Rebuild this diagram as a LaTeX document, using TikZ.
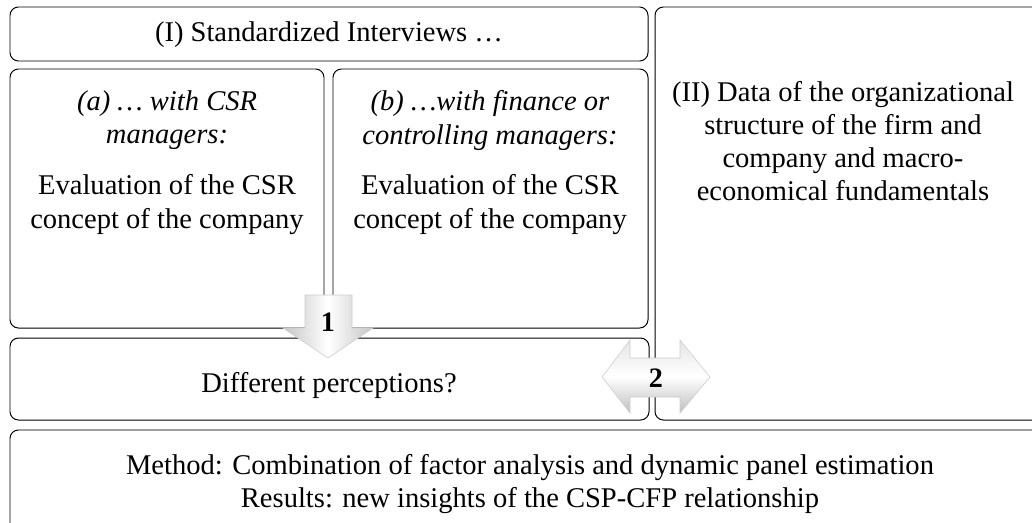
\documentclass[tikz,border=0pt]{standalone}
\usepackage{fontspec}
\setmainfont{Liberation Serif}
\usetikzlibrary{positioning}
\begin{document}
\begin{tikzpicture}[x=0.025cm,y=-0.025cm,
  box/.style={draw,rounded corners=6pt,line width=0.7pt},
  txt/.style={align=center,inner sep=0pt,font=\fontsize{20.3}{23.6}\selectfont},
  num/.style={inner sep=0pt,font=\fontsize{20}{24}\selectfont\bfseries}]
\useasboundingbox (0,0) rectangle (1032,522);
\clip (0,0) rectangle (1032,522);
% boxes
\draw[box] (10,7) rectangle (648,61);
\draw[box] (10,69) rectangle (324,328);
\draw[box] (333,69) rectangle (648,328);
\draw[box] (655,7) rectangle (1060,420);
\draw[box] (10,338) rectangle (649,420);
\draw[box] (10,430) rectangle (1060,560);
\draw[color=gray!75,line width=1.4pt] (18,430)--(1032,430);
% texts
\node[txt] (intv) at (329,35) {(I) Standardized Interviews …};
\node[txt] (csrA) at (167,120.5) {\itshape (a) … with CSR\\\itshape managers:};
\node[txt] (evalA) at (167,204.5) {Evaluation of the CSR\\concept of the company};
\node[txt] (finB) at (490,120.5) {\itshape (b) …with finance or\\\itshape controlling managers:};
\node[txt] (evalB) at (490,204.5) {Evaluation of the CSR\\concept of the company};
\node[txt] (data) at (843,141) {(II) Data of the organizational\\structure of the firm and\\company and macro-\\economical fundamentals};
\node[txt] (diff) at (329,385) {Different perceptions?};
\node[txt,font=\fontsize{20.3}{23}\selectfont] (meth) at (530,484) {Method: Combination of factor analysis and dynamic panel estimation\\Results: new insights of the CSP-CFP relationship};
% arrow 1
\coordinate (A0) at (305,295);
\coordinate (A1) at (352,295);
\coordinate (A2) at (352,328);
\coordinate (A3) at (373,328);
\coordinate (A4) at (328,358);
\coordinate (A5) at (283,328);
\coordinate (A6) at (305,328);
\draw[draw=gray!40,left color=gray!45,right color=gray!45,middle color=white] (A0)--(A1)--(A2)--(A3)--(A4)--(A5)--(A6)--cycle;
\node[num] (one) at (328,322) {1};
% arrow 2
\coordinate (B0) at (602,377);
\coordinate (B1) at (630,340);
\coordinate (B2) at (630,358);
\coordinate (B3) at (680,358);
\coordinate (B4) at (680,340);
\coordinate (B5) at (710,377);
\coordinate (B6) at (680,413);
\coordinate (B7) at (680,397);
\coordinate (B8) at (630,397);
\coordinate (B9) at (630,413);
\draw[draw=gray!40,top color=gray!20,bottom color=gray!50,middle color=white] (B0)--(B1)--(B2)--(B3)--(B4)--(B5)--(B6)--(B7)--(B8)--(B9)--cycle;
\node[num] (two) at (656,378) {2};
\end{tikzpicture}
\end{document}
